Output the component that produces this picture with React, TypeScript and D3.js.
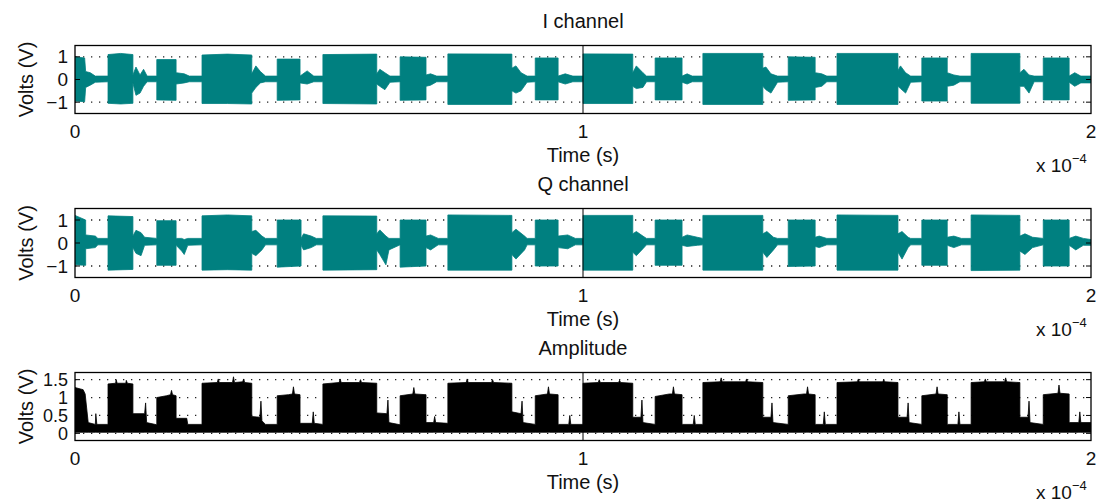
import React from "react";
import * as d3 from "d3";

// Time axis in units of 1e-4 s
const xTicks = [0, 1, 2];
const xTickLabels = ["0", "1", "2"];

const iqTicks = [-1, 0, 1];
const iqTickLabels = ["\u22121", "0", "1"];
const ampTicks = [0, 0.5, 1, 1.5];
const ampTickLabels = ["0", "0.5", "1", "1.5"];

// I channel envelope: [time, upper volts, lower volts]
const iEnvelope: [number, number, number][] = [
  [0, 1.0, -0.95], [0.019, 0.95, -0.98], [0.021, 0.35, -0.35], [0.03, 0.3, -0.25],
  [0.04, 0.15, -0.12], [0.065, 0.15, -0.1], [0.065, 1.1, -1.05], [0.09, 1.15, -1.08],
  [0.114, 1.1, -1.05], [0.114, 0.2, -0.15], [0.12, 0.55, -0.7], [0.128, 0.2, -0.6],
  [0.135, 0.45, -0.3], [0.142, 0.15, -0.1], [0.161, 0.15, -0.1], [0.161, 0.88, -0.9],
  [0.199, 0.88, -0.92], [0.199, 0.3, -0.2], [0.215, 0.25, -0.15], [0.225, 0.15, -0.1],
  [0.25, 0.15, -0.1], [0.25, 1.08, -1.06], [0.3, 1.12, -1.06], [0.348, 1.08, -1.08],
  [0.348, 0.25, -0.6], [0.356, 0.6, -0.35], [0.365, 0.35, -0.15], [0.375, 0.15, -0.1],
  [0.398, 0.15, -0.1], [0.398, 0.9, -0.92], [0.443, 0.9, -0.9], [0.443, 0.15, -0.15],
  [0.457, 0.38, -0.2], [0.47, 0.15, -0.1], [0.488, 0.15, -0.1], [0.488, 1.1, -1.06],
  [0.594, 1.12, -1.08], [0.594, 0.25, -0.2], [0.6, 0.45, -0.3], [0.61, 0.3, -0.45],
  [0.62, 0.15, -0.12], [0.64, 0.15, -0.1], [0.64, 1.0, -0.92], [0.691, 0.98, -0.9],
  [0.691, 0.2, -0.3], [0.7, 0.25, -0.25], [0.712, 0.15, -0.1], [0.734, 0.15, -0.1],
  [0.734, 1.13, -1.1], [0.86, 1.12, -1.1], [0.86, 0.5, -0.5], [0.868, 0.6, -0.6],
  [0.878, 0.3, -0.5], [0.89, 0.15, -0.12], [0.906, 0.15, -0.1], [0.906, 0.95, -0.9],
  [0.951, 0.95, -0.9], [0.951, 0.15, -0.1], [0.965, 0.25, -0.2], [0.98, 0.15, -0.1],
  [1.0, 0.15, -0.1], [1.0, 1.13, -1.06], [1.098, 1.12, -1.06], [1.098, 0.3, -0.3],
  [1.105, 0.6, -0.4], [1.118, 0.3, -0.35], [1.125, 0.15, -0.1], [1.142, 0.15, -0.1],
  [1.142, 0.95, -0.9], [1.195, 0.95, -0.9], [1.195, 0.15, -0.12], [1.205, 0.25, -0.2],
  [1.215, 0.15, -0.1], [1.236, 0.15, -0.1], [1.236, 1.15, -1.1], [1.354, 1.15, -1.1],
  [1.354, 0.5, -0.3], [1.36, 0.55, -0.45], [1.37, 0.25, -0.6], [1.383, 0.15, -0.12],
  [1.404, 0.15, -0.1], [1.404, 1.0, -0.92], [1.457, 0.98, -0.9], [1.457, 0.3, -0.35],
  [1.47, 0.25, -0.3], [1.48, 0.15, -0.1], [1.5, 0.15, -0.1], [1.5, 1.15, -1.1],
  [1.62, 1.15, -1.1], [1.62, 0.4, -0.3], [1.625, 0.6, -0.4], [1.635, 0.3, -0.6],
  [1.645, 0.15, -0.12], [1.667, 0.15, -0.1], [1.667, 0.95, -0.95], [1.717, 0.95, -0.95],
  [1.717, 0.3, -0.3], [1.73, 0.2, -0.25], [1.742, 0.15, -0.1], [1.764, 0.15, -0.1],
  [1.764, 1.15, -1.05], [1.86, 1.15, -1.05], [1.86, 0.3, -0.3], [1.868, 0.45, -0.3],
  [1.878, 0.2, -0.6], [1.888, 0.15, -0.1], [1.906, 0.15, -0.1], [1.906, 0.95, -0.9],
  [1.957, 0.95, -0.9], [1.957, 0.15, -0.12], [1.968, 0.3, -0.3], [1.98, 0.15, -0.15],
  [2.0, 0.15, -0.15],
];

// Q channel envelope: [time, upper volts, lower volts]
const qEnvelope: [number, number, number][] = [
  [0, 1.2, -0.95], [0.021, 1.0, -0.97], [0.021, 0.35, -0.25], [0.04, 0.3, -0.2],
  [0.045, 0.2, -0.08], [0.065, 0.2, -0.08], [0.065, 1.18, -1.18], [0.114, 1.15, -1.15],
  [0.114, 0.3, -0.2], [0.12, 0.55, -0.45], [0.13, 0.45, -0.55], [0.137, 0.25, -0.1],
  [0.161, 0.2, -0.08], [0.161, 0.97, -0.97], [0.199, 0.97, -0.97], [0.199, 0.2, -0.1],
  [0.21, 0.2, -0.35], [0.215, 0.15, -0.5], [0.222, 0.2, -0.1], [0.25, 0.2, -0.08],
  [0.25, 1.18, -1.18], [0.3, 1.22, -1.16], [0.348, 1.18, -1.18], [0.348, 0.5, -0.45],
  [0.356, 0.55, -0.55], [0.368, 0.3, -0.3], [0.375, 0.2, -0.08], [0.398, 0.2, -0.08],
  [0.398, 1.0, -1.05], [0.445, 1.0, -1.0], [0.445, 0.2, -0.1], [0.45, 0.4, -0.3],
  [0.465, 0.3, -0.2], [0.475, 0.2, -0.08], [0.488, 0.2, -0.08], [0.488, 1.18, -1.18],
  [0.594, 1.17, -1.16], [0.594, 0.4, -0.3], [0.6, 0.57, -0.5], [0.612, 0.3, -0.95],
  [0.618, 0.2, -0.3], [0.64, 0.2, -0.08], [0.64, 1.0, -1.05], [0.691, 1.0, -1.0],
  [0.691, 0.3, -0.2], [0.7, 0.35, -0.3], [0.715, 0.2, -0.08], [0.734, 0.2, -0.08],
  [0.734, 1.22, -1.18], [0.86, 1.2, -1.18], [0.86, 0.45, -0.5], [0.868, 0.6, -0.7],
  [0.885, 0.3, -0.3], [0.89, 0.2, -0.08], [0.906, 0.2, -0.08], [0.906, 1.0, -1.0],
  [0.951, 1.0, -1.0], [0.951, 0.3, -0.2], [0.97, 0.35, -0.25], [0.985, 0.2, -0.08],
  [1.0, 0.2, -0.08], [1.0, 1.2, -1.18], [1.098, 1.2, -1.18], [1.098, 0.4, -0.4],
  [1.105, 0.5, -0.55], [1.118, 0.3, -0.25], [1.125, 0.2, -0.08], [1.142, 0.2, -0.08],
  [1.142, 1.0, -0.97], [1.195, 1.0, -0.97], [1.195, 0.25, -0.1], [1.205, 0.35, -0.15],
  [1.225, 0.25, -0.1], [1.236, 0.2, -0.08], [1.236, 1.2, -1.18], [1.354, 1.2, -1.18],
  [1.354, 0.4, -0.4], [1.362, 0.5, -0.63], [1.375, 0.25, -0.3], [1.383, 0.2, -0.08],
  [1.404, 0.2, -0.08], [1.404, 1.0, -1.02], [1.457, 1.0, -1.0], [1.457, 0.25, -0.15],
  [1.465, 0.3, -0.2], [1.48, 0.2, -0.08], [1.5, 0.2, -0.08], [1.5, 1.22, -1.18],
  [1.62, 1.2, -1.18], [1.62, 0.4, -0.4], [1.628, 0.5, -0.7], [1.64, 0.25, -0.2],
  [1.645, 0.2, -0.08], [1.667, 0.2, -0.08], [1.667, 1.0, -0.97], [1.717, 1.0, -0.97],
  [1.717, 0.25, -0.1], [1.73, 0.3, -0.2], [1.745, 0.2, -0.08], [1.764, 0.2, -0.08],
  [1.764, 1.22, -1.2], [1.86, 1.2, -1.18], [1.86, 0.3, -0.35], [1.87, 0.4, -0.5],
  [1.885, 0.25, -0.2], [1.906, 0.2, -0.08], [1.906, 1.0, -1.0], [1.957, 1.0, -1.0],
  [1.957, 0.2, -0.1], [1.97, 0.3, -0.3], [1.985, 0.2, -0.1], [2.0, 0.15, -0.1],
];

// Amplitude envelope: [time, upper volts]; the trace sits on a floor just above zero
const ampFloor = 0.03;
const ampEnvelope: [number, number][] = [
  [0, 1.28], [0.016, 1.22], [0.02, 1.1], [0.026, 0.3], [0.04, 0.25], [0.041, 0.55],
  [0.043, 0.25], [0.065, 0.25],
  [0.065, 1.38], [0.08, 1.4], [0.081, 1.5], [0.083, 1.4], [0.1, 1.4], [0.101, 1.48],
  [0.103, 1.4], [0.114, 1.38],
  [0.114, 0.55], [0.137, 0.55], [0.139, 0.85], [0.141, 0.3], [0.161, 0.24],
  [0.161, 1.0], [0.18, 1.05], [0.188, 1.08], [0.19, 1.2], [0.192, 1.08], [0.199, 1.05],
  [0.199, 0.42], [0.22, 0.42], [0.222, 0.25], [0.25, 0.25],
  [0.25, 1.4], [0.28, 1.42], [0.282, 1.52], [0.284, 1.42], [0.31, 1.42], [0.312, 1.58],
  [0.314, 1.42], [0.33, 1.44], [0.332, 1.52], [0.334, 1.42], [0.348, 1.4],
  [0.348, 0.47], [0.364, 0.45], [0.366, 0.9], [0.368, 0.35], [0.375, 0.25], [0.398, 0.25],
  [0.398, 1.05], [0.42, 1.08], [0.428, 1.1], [0.43, 1.3], [0.432, 1.1], [0.443, 1.08],
  [0.443, 0.28], [0.467, 0.28], [0.469, 0.6], [0.471, 0.28], [0.488, 0.25],
  [0.488, 1.38], [0.52, 1.42], [0.522, 1.52], [0.524, 1.42], [0.56, 1.42], [0.562, 1.5],
  [0.564, 1.42], [0.594, 1.4],
  [0.594, 0.57], [0.614, 0.55], [0.616, 0.93], [0.618, 0.3], [0.64, 0.24],
  [0.64, 1.05], [0.665, 1.1], [0.667, 1.28], [0.669, 1.1], [0.691, 1.08],
  [0.691, 0.3], [0.706, 0.3], [0.708, 0.47], [0.71, 0.3], [0.734, 0.28],
  [0.734, 1.4], [0.77, 1.42], [0.772, 1.52], [0.774, 1.42], [0.82, 1.42], [0.822, 1.5],
  [0.824, 1.42], [0.86, 1.4],
  [0.86, 0.6], [0.878, 0.55], [0.88, 0.9], [0.882, 0.3], [0.906, 0.25],
  [0.906, 1.05], [0.93, 1.1], [0.932, 1.3], [0.934, 1.1], [0.951, 1.08],
  [0.951, 0.25], [0.972, 0.25], [0.974, 0.5], [0.976, 0.25], [1.0, 0.25],
  [1.0, 1.4], [1.03, 1.42], [1.032, 1.5], [1.034, 1.42], [1.07, 1.42], [1.072, 1.48],
  [1.074, 1.42], [1.098, 1.4],
  [1.098, 0.45], [1.114, 0.45], [1.116, 0.93], [1.118, 0.3], [1.142, 0.25],
  [1.142, 1.03], [1.17, 1.1], [1.176, 1.1], [1.178, 1.3], [1.18, 1.1], [1.195, 1.08],
  [1.195, 0.25], [1.217, 0.25], [1.219, 0.5], [1.221, 0.25], [1.236, 0.25],
  [1.236, 1.42], [1.27, 1.44], [1.272, 1.55], [1.274, 1.44], [1.32, 1.44], [1.322, 1.52],
  [1.324, 1.44], [1.354, 1.42],
  [1.354, 0.45], [1.37, 0.45], [1.372, 0.85], [1.374, 0.3], [1.404, 0.25],
  [1.404, 1.05], [1.435, 1.1], [1.44, 1.1], [1.442, 1.3], [1.444, 1.1], [1.457, 1.08],
  [1.457, 0.25], [1.473, 0.25], [1.475, 0.6], [1.477, 0.25], [1.5, 0.25],
  [1.5, 1.42], [1.54, 1.44], [1.542, 1.52], [1.544, 1.44], [1.59, 1.44], [1.592, 1.5],
  [1.594, 1.44], [1.62, 1.42],
  [1.62, 0.45], [1.638, 0.45], [1.64, 0.85], [1.642, 0.3], [1.667, 0.25],
  [1.667, 1.05], [1.695, 1.1], [1.697, 1.3], [1.699, 1.1], [1.717, 1.08],
  [1.717, 0.25], [1.738, 0.25], [1.74, 0.6], [1.742, 0.25], [1.764, 0.25],
  [1.764, 1.42], [1.79, 1.44], [1.792, 1.52], [1.794, 1.44], [1.83, 1.44], [1.832, 1.55],
  [1.834, 1.44], [1.86, 1.42],
  [1.86, 0.45], [1.876, 0.45], [1.878, 0.9], [1.88, 0.3], [1.906, 0.25],
  [1.906, 1.08], [1.935, 1.12], [1.937, 1.35], [1.939, 1.12], [1.957, 1.1],
  [1.957, 0.3], [1.976, 0.3], [1.978, 0.6], [1.98, 0.3], [2.0, 0.3],
];

const W = 1099;
const H = 501;
const LEFT = 75;
const RIGHT = 1091;
const FONT = "'Liberation Sans', Arial, Helvetica, sans-serif";
const LABEL_FS = 20;
const TICK_FS = 19;

type PanelProps = {
  top: number;
  bottom: number;
  yDomain: [number, number];
  ticks: number[];
  tickLabels: string[];
  tickFontSize: number;
  title: string;
  color: string;
  band: [number, number, number][];
};

function Panel({ top, bottom, yDomain, ticks, tickLabels, tickFontSize, title, color, band }: PanelProps) {
  const x = d3.scaleLinear().domain([0, 2]).range([LEFT, RIGHT]);
  const y = d3.scaleLinear().domain(yDomain).range([bottom, top]);
  const area = d3
    .area<[number, number, number]>()
    .x((d) => x(d[0]))
    .y0((d) => y(d[2]))
    .y1((d) => y(d[1]));
  const midX = x(1);
  const clipId = `clip-${title.replace(/\s/g, "")}`;

  return (
    <g fontFamily={FONT} fontSize={LABEL_FS} fill="#111">
      <defs>
        <clipPath id={clipId}>
          <rect x={LEFT} y={top} width={RIGHT - LEFT} height={bottom - top} />
        </clipPath>
      </defs>
      {/* dotted grid at y ticks */}
      {ticks.map((t) => (
        <line
          key={`g${t}`}
          x1={LEFT}
          x2={RIGHT}
          y1={y(t)}
          y2={y(t)}
          stroke="#222"
          strokeWidth={1.3}
          strokeDasharray="1.3 6.7"
        />
      ))}
      <path d={area(band) ?? ""} fill={color} stroke={color} strokeWidth={0.8} clipPath={`url(#${clipId})`} />
      {/* vertical grid line at 1e-4 */}
      <line x1={midX} x2={midX} y1={top} y2={bottom} stroke="#000" strokeWidth={1} />
      {/* tick marks on both sides */}
      {ticks.map((t) => (
        <g key={`t${t}`}>
          <line x1={LEFT} x2={LEFT + 5} y1={y(t)} y2={y(t)} stroke="#000" />
          <line x1={RIGHT - 5} x2={RIGHT} y1={y(t)} y2={y(t)} stroke="#000" />
        </g>
      ))}
      <rect x={LEFT} y={top} width={RIGHT - LEFT} height={bottom - top} fill="none" stroke="#000" strokeWidth={1.3} />
      {/* y tick labels */}
      {ticks.map((t, i) => (
        <text key={`yl${t}`} x={68} y={y(t) + 6.5} textAnchor="end" fontSize={tickFontSize}>
          {tickLabels[i]}
        </text>
      ))}
      {/* x tick labels */}
      {xTicks.map((t, i) => (
        <text key={`xl${t}`} x={x(t)} y={bottom + 24.5} textAnchor="middle" fontSize={TICK_FS}>
          {xTickLabels[i]}
        </text>
      ))}
      <text x={midX} y={top - 17.5} textAnchor="middle">
        {title}
      </text>
      <text x={midX} y={bottom + 48} textAnchor="middle">
        Time (s)
      </text>
      <text x={1036} y={bottom + 58.5} fontSize={TICK_FS}>
        x 10
      </text>
      <text x={1072} y={bottom + 49} fontSize={13}>
        {"\u22124"}
      </text>
      <text transform={`translate(33,${(top + bottom) / 2}) rotate(-90)`} textAnchor="middle">
        Volts (V)
      </text>
    </g>
  );
}

export default function App() {
  const ampBand: [number, number, number][] = ampEnvelope.map((d) => [d[0], d[1], ampFloor]);
  return (
    <svg
      width={W}
      height={H}
      viewBox={`0 0 ${W} ${H}`}
      style={{ position: "absolute", left: 0, top: 0, background: "#fff" }}
    >
      <rect width={W} height={H} fill="#fff" />
      <Panel
        top={45.5}
        bottom={113.5}
        yDomain={[-1.5, 1.5]}
        ticks={iqTicks}
        tickLabels={iqTickLabels}
        tickFontSize={TICK_FS}
        title="I channel"
        color="#008080"
        band={iEnvelope}
      />
      <Panel
        top={208.5}
        bottom={277.5}
        yDomain={[-1.5, 1.5]}
        ticks={iqTicks}
        tickLabels={iqTickLabels}
        tickFontSize={TICK_FS}
        title="Q channel"
        color="#008080"
        band={qEnvelope}
      />
      <Panel
        top={372.5}
        bottom={440.5}
        yDomain={[-0.2, 1.7]}
        ticks={ampTicks}
        tickLabels={ampTickLabels}
        tickFontSize={18}
        title="Amplitude"
        color="#000"
        band={ampBand}
      />
    </svg>
  );
}
